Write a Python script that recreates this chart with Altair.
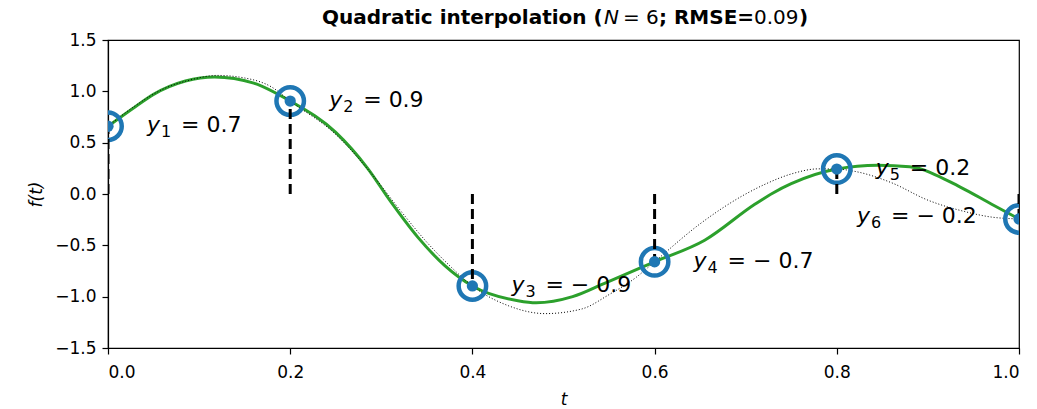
import altair as alt
import pandas as pd

# sample points
t_samples = [0.0, 0.2, 0.4, 0.6, 0.8, 1.0]
y_samples = [0.66, 0.905, -0.896, -0.66, 0.243, -0.243]
label_sym = ["y", "y", "y", "y", "y", "y"]
label_sub = ["1", "2", "3", "4", "5", "6"]
label_rest = ["= 0.7", "= 0.9", "= − 0.9", "= − 0.7", "= 0.2", "= − 0.2"]

# original function (dotted)
orig_t = [0.00, 0.03, 0.06, 0.09, 0.12, 0.15, 0.18, 0.20, 0.25, 0.29, 0.32, 0.35,
          0.38, 0.40, 0.44, 0.48, 0.52, 0.55, 0.58, 0.60, 0.65, 0.70, 0.72, 0.75,
          0.78, 0.80, 0.82, 0.86, 0.90, 0.94, 0.97, 1.00]
orig_f = [0.66, 0.86, 1.02, 1.11, 1.155, 1.13, 1.04, 0.905, 0.58, 0.19, -0.15, -0.47,
          -0.74, -0.896, -1.09, -1.165, -1.12, -0.98, -0.81, -0.66, -0.29, 0.00, 0.09, 0.195,
          0.245, 0.243, 0.22, 0.11, -0.06, -0.17, -0.225, -0.243]

# quadratic interpolation (green)
interp_t = [0.00, 0.03, 0.05, 0.085, 0.117, 0.16, 0.20, 0.25, 0.285, 0.31, 0.34, 0.37,
            0.40, 0.45, 0.47, 0.51, 0.545, 0.60, 0.655, 0.71, 0.73, 0.75, 0.80, 0.845,
            0.88, 0.935, 0.97, 1.00]
interp_f = [0.66, 0.85, 0.97, 1.10, 1.14, 1.08, 0.905, 0.60, 0.25, -0.07, -0.42, -0.70,
            -0.896, -1.04, -1.06, -1.00, -0.87, -0.66, -0.45, -0.10, 0.01, 0.10, 0.243, 0.28,
            0.265, 0.07, -0.10, -0.243]

# title pieces (bold / italic / regular as in the reference)
title_parts = ["Quadratic interpolation (", "N", "= 6", "; RMSE=", "0.09", ")"]

df_s = pd.DataFrame({"t": t_samples, "y": y_samples, "base": [0.0] * len(t_samples),
                     "sym": label_sym, "sub": label_sub, "rest": label_rest})
df_o = pd.DataFrame({"t": orig_t, "f": orig_f})
df_i = pd.DataFrame({"t": interp_t, "f": interp_f})
df_title = pd.DataFrame({"s": title_parts})

FONT = "DejaVu Sans"
BLUE = "#1f77b4"

xs = alt.Scale(domain=[0, 1], nice=False, zero=False)
ys = alt.Scale(domain=[-1.5, 1.5], nice=False, zero=False)

xax = alt.Axis(values=[0, 0.2, 0.4, 0.6, 0.8, 1.0], format=".1f", title="t",
               titleFontStyle="italic", titleFontWeight="normal", titleFontSize=17,
               titleFont=FONT, titlePadding=11, labelPadding=10)
yax = alt.Axis(values=[-1.5, -1.0, -0.5, 0.0, 0.5, 1.0, 1.5], format=".1f", title="f(t)",
               titleFontStyle="italic", titleFontWeight="normal", titleFontSize=17,
               titleFont=FONT, titlePadding=9, labelPadding=6)

X = alt.X("t:Q", scale=xs, axis=xax)
Yf = alt.Y("f:Q", scale=ys, axis=yax)
Yy = alt.Y("y:Q", scale=ys, axis=yax)

green = alt.Chart(df_i).mark_line(color="#2ca02c", strokeWidth=3, interpolate="monotone",
                                  clip=True).encode(x=X, y=Yf)
dotted = alt.Chart(df_o).mark_line(color="black", strokeWidth=1, strokeDash=[1, 2],
                                   interpolate="monotone", clip=True).encode(x=X, y=Yf)
rings = alt.Chart(df_s).mark_point(shape="circle", filled=False, size=755, strokeWidth=4.5,
                                   color=BLUE, opacity=1, clip=True).encode(x=X, y=Yy)
stems = alt.Chart(df_s).mark_rule(color="black", strokeWidth=3, strokeDash=[10, 5],
                                  clip=True).encode(x=X, y=alt.Y("base:Q", scale=ys, axis=yax),
                                                    y2="y:Q")
dots = alt.Chart(df_s).mark_circle(size=127, color=BLUE, opacity=1, clip=True).encode(x=X, y=Yy)

first = alt.datum.t < 0.99
last = alt.datum.t >= 0.99


def label_layers(flt, dx0, dy0):
    base = alt.Chart(df_s).transform_filter(flt)
    sym = base.mark_text(font=FONT, fontSize=22, fontStyle="italic", align="left",
                         baseline="alphabetic", dx=dx0, dy=dy0, color="black"
                         ).encode(x=X, y=Yy, text="sym:N")
    sub = base.mark_text(font=FONT, fontSize=16, align="left", baseline="alphabetic",
                         dx=dx0 + 14, dy=dy0 + 5, color="black"
                         ).encode(x=X, y=Yy, text="sub:N")
    rest = base.mark_text(font=FONT, fontSize=22, align="left", baseline="alphabetic",
                          dx=dx0 + 34, dy=dy0, color="black"
                          ).encode(x=X, y=Yy, text="rest:N")
    return [sym, sub, rest]


labels = label_layers(first, 39, 6) + label_layers(last, -162, 4)

# title built from pieces, placed above the plot area (x in px from plot left)
title_styles = [("bold", "normal", 214), ("normal", "italic", 496), ("normal", "normal", 515),
                ("bold", "normal", 551), ("normal", "normal", 646), ("bold", "normal", 691)]
title_layers = []
for i, (w, st, px) in enumerate(title_styles):
    title_layers.append(
        alt.Chart(df_title).transform_filter(alt.datum.s == title_parts[i]).mark_text(
            font=FONT, fontSize=20, fontWeight=w, fontStyle=st, align="left",
            baseline="alphabetic", color="black"
        ).encode(x=alt.value(px), y=alt.value(-16), text="s:N")
    )

chart = alt.layer(green, dotted, rings, stems, dots, *labels, *title_layers).properties(
    width=911, height=308,
    autosize=alt.AutoSizeParams(type="none"),
    padding={"left": 100, "top": 32, "right": 10, "bottom": 61},
).configure_view(stroke="black", strokeWidth=1.2).configure_axis(
    domainColor="black", domainWidth=1.2, tickColor="black", tickWidth=1.2, tickSize=6,
    labelFont=FONT, labelFontSize=17, labelColor="black", grid=False,
    titleColor="black"
)

chart.save("out.html", embed_options={"renderer": "svg", "actions": False})
